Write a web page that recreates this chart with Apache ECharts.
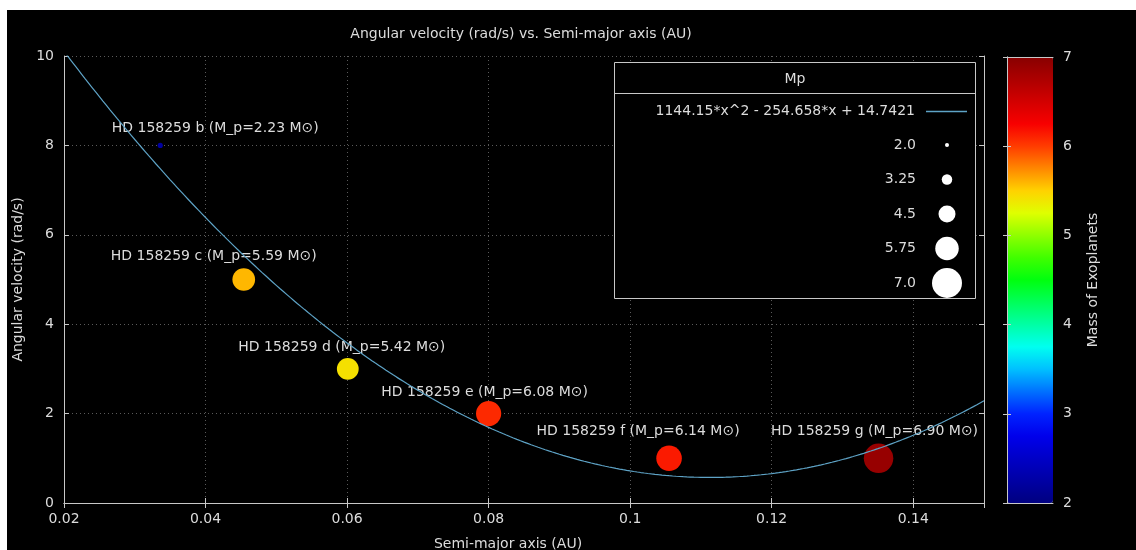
<!DOCTYPE html>
<html>
<head>
<meta charset="utf-8">
<script src="https://cdn.jsdelivr.net/npm/echarts@6/dist/echarts.min.js"></script>
<style>
  html, body { margin: 0; padding: 0; background: #ffffff; }
  #frame { position: absolute; left: 7px; top: 10px; right: 0; bottom: 0; background: #000000; }
  #chart { position: absolute; left: 0; top: 0; width: 1136px; height: 550px; }
</style>
</head>
<body>
<div id="frame"></div>
<div id="chart"></div>
<script>
// Planets of HD 158259
const planetNames = ['HD 158259 b', 'HD 158259 c', 'HD 158259 d', 'HD 158259 e', 'HD 158259 f', 'HD 158259 g'];
const semiMajorAxis = [0.0336, 0.0454, 0.0601, 0.0800, 0.1055, 0.1351];   // AU
const angularVelocity = [8, 5, 3, 2, 1, 1];                                // rad/s
const planetMass = [2.23, 5.59, 5.42, 6.08, 6.14, 6.90];                   // M_p

// Quadratic fit: a*x^2 + b*x + c
const fitCoefficients = [1144.15, -254.658, 14.7421];

// Bubble-size key and colour scale
const massKeyLabels = ['2.0', '3.25', '4.5', '5.75', '7.0'];
const massRange = [2, 7];

// Styling
const TEXT = '#dcdcdc';
const FONT = 'DejaVu Sans';
const FS = 14;
const FRAME = '#c8c8c8';
const FIT_COLOR = '#5ea3c6';
const palette = ['#000080', '#0000a4', '#0000c7', '#0000eb', '#0023ff', '#0071ff', '#00c0ff',
  '#00fff0', '#00ffa5', '#00ff5a', '#00ff0f', '#40ff00', '#8fff00', '#dfff00', '#ffd200',
  '#ff8700', '#ff3c00', '#f80000', '#d20000', '#ad0000', '#880000'];
// per-label shift from the bubble centre, in pixels
const labelShift = [[55, -17], [-30, -23], [-6, -22], [-4, -21], [-31, -27], [-4, -27]];

const bubbleSize = m => 4 + (m - 2) * 5.2;

const [fa, fb, fc] = fitCoefficients;
const fitFn = x => fa * x * x + fb * x + fc;
const fitData = [];
for (let i = 0; i <= 260; i++) {
  const x = 0.02 + i * 0.0005;
  fitData.push([x, fitFn(x)]);
}
const fitLabel = `${fa}*x^2 - ${-fb}*x + ${fc}`;

const scatterData = planetNames.map((n, i) => ({
  name: n,
  value: [semiMajorAxis[i], angularVelocity[i], planetMass[i]],
  symbolSize: bubbleSize(planetMass[i]),
  label: { offset: labelShift[i] }
}));

const chart = echarts.init(document.getElementById('chart'), null, { renderer: 'canvas' });

const axisText = { color: TEXT, fontFamily: FONT, fontSize: FS };
const gridLine = { show: true, lineStyle: { color: '#5a5a5a', type: [1, 3], width: 1 } };
const inTick = { show: true, inside: true, length: 5, lineStyle: { color: FRAME } };
const frameLine = { show: true, lineStyle: { color: FRAME, width: 1 } };
const font = `${FS}px "${FONT}"`;

// key entries on the right-hand side of the plot
const keyGraphics = [
  { type: 'rect', shape: { x: 614.5, y: 62.5, width: 361, height: 236 },
    style: { fill: '#000', stroke: FRAME, lineWidth: 1 }, z: 20 },
  { type: 'line', shape: { x1: 614.5, y1: 93.5, x2: 975.5, y2: 93.5 },
    style: { stroke: FRAME, lineWidth: 1 }, z: 21 },
  { type: 'text', x: 795, y: 79, z: 21,
    style: { text: 'Mp', fill: TEXT, font: font, align: 'center', verticalAlign: 'middle' } },
  { type: 'text', x: 915, y: 111, z: 21,
    style: { text: fitLabel, fill: TEXT, font: font, align: 'right', verticalAlign: 'middle' } },
  { type: 'line', shape: { x1: 926, y1: 111.5, x2: 967, y2: 111.5 },
    style: { stroke: FIT_COLOR, lineWidth: 1.3 }, z: 21 }
];
massKeyLabels.forEach((t, i) => {
  const cy = 145 + i * 34.5;
  keyGraphics.push({ type: 'text', x: 916, y: cy, z: 21,
    style: { text: t, fill: TEXT, font: font, align: 'right', verticalAlign: 'middle' } });
  keyGraphics.push({ type: 'circle', shape: { cx: 947, cy: cy, r: bubbleSize(parseFloat(t)) / 2 },
    style: { fill: '#ffffff' }, z: 21 });
});
keyGraphics.push({ type: 'text', x: 521, y: 34, z: 21,
  style: { text: 'Angular velocity (rad/s) vs. Semi-major axis (AU)', fill: TEXT,
    font: font, align: 'center', verticalAlign: 'middle' } });

const option = {
  backgroundColor: 'transparent',
  animation: false,
  textStyle: { fontFamily: FONT },
  graphic: keyGraphics,
  grid: [
    { left: 64, right: 152, top: 56, bottom: 47, outerBoundsMode: 'none' },
    { left: 1007, width: 46, top: 57, bottom: 47, outerBoundsMode: 'none' }
  ],
  xAxis: [
    { type: 'value', gridIndex: 0, min: 0.02, max: 0.15, interval: 0.02,
      axisLine: frameLine, axisTick: inTick, splitLine: gridLine,
      axisLabel: Object.assign({ margin: 9, showMaxLabel: false }, axisText),
      name: 'Semi-major axis (AU)', nameLocation: 'middle', nameGap: 34,
      nameTextStyle: Object.assign({ padding: [0, 32, 0, 0] }, axisText) },
    { type: 'value', gridIndex: 0, position: 'top', min: 0.02, max: 0.15, interval: 0.02,
      axisLine: frameLine, axisTick: inTick, splitLine: { show: false }, axisLabel: { show: false } },
    { type: 'value', gridIndex: 1, min: 0, max: 1, show: true, position: 'bottom', z: 10,
      axisLine: frameLine, axisTick: { show: false }, axisLabel: { show: false }, splitLine: { show: false } },
    { type: 'value', gridIndex: 1, min: 0, max: 1, show: true, position: 'top', z: 10,
      axisLine: frameLine, axisTick: { show: false }, axisLabel: { show: false }, splitLine: { show: false } }
  ],
  yAxis: [
    { type: 'value', gridIndex: 0, min: 0, max: 10, interval: 2,
      axisLine: frameLine, axisTick: inTick, splitLine: gridLine,
      axisLabel: Object.assign({ margin: 10 }, axisText),
      name: 'Angular velocity (rad/s)', nameLocation: 'middle', nameGap: 36, nameTextStyle: axisText },
    { type: 'value', gridIndex: 0, position: 'right', min: 0, max: 10, interval: 2,
      axisLine: frameLine, axisTick: inTick, splitLine: { show: false }, axisLabel: { show: false } },
    { type: 'value', gridIndex: 1, position: 'right', min: massRange[0], max: massRange[1], interval: 1, z: 10,
      axisLine: frameLine, axisTick: { show: true, inside: true, length: 4, lineStyle: { color: FRAME } },
      splitLine: { show: false }, axisLabel: Object.assign({ margin: 10 }, axisText),
      name: 'Mass of Exoplanets', nameLocation: 'middle', nameRotate: 90, nameGap: 33, nameTextStyle: axisText },
    { type: 'value', gridIndex: 1, position: 'left', min: massRange[0], max: massRange[1], interval: 1, z: 10,
      axisLine: frameLine, axisTick: { show: true, inside: true, length: 4, lineStyle: { color: FRAME } },
      splitLine: { show: false }, axisLabel: { show: false } }
  ],
  visualMap: {
    type: 'continuous', seriesIndex: 0, dimension: 2,
    min: massRange[0], max: massRange[1],
    inRange: { color: palette },
    calculable: false, hoverLink: false, realtime: false,
    left: 1007, top: 57, padding: 0,
    itemWidth: 46, itemHeight: 446,
    text: null, showLabel: false,
    textStyle: { color: 'transparent' }
  },
  series: [
    {
      type: 'scatter', xAxisIndex: 0, yAxisIndex: 0, z: 3,
      data: scatterData,
      symbol: 'circle',
      itemStyle: { opacity: 1 },
      label: {
        show: true, position: 'inside',
        color: TEXT, fontFamily: FONT, fontSize: FS,
        formatter: p => `${p.name} (M_p=${p.value[2].toFixed(2)} M⊙)`
      },
      emphasis: { disabled: true }
    },
    {
      type: 'line', xAxisIndex: 0, yAxisIndex: 0, z: 5,
      data: fitData, showSymbol: false, symbol: 'none', clip: true,
      lineStyle: { color: FIT_COLOR, width: 1.2 },
      emphasis: { disabled: true }
    }
  ]
};

chart.setOption(option);
</script>
</body>
</html>
